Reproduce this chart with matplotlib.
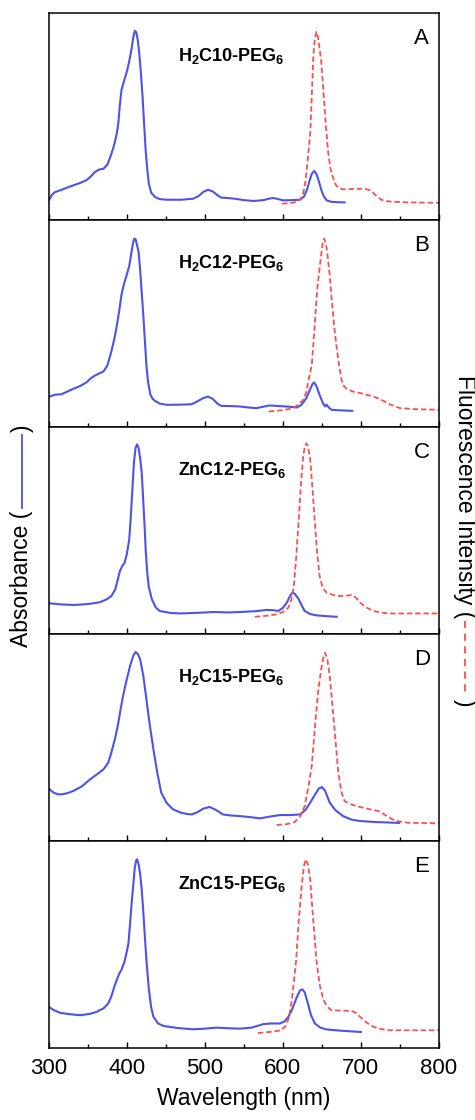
import matplotlib
matplotlib.use("Agg")
import matplotlib.pyplot as plt
from matplotlib.lines import Line2D
from matplotlib.ticker import MultipleLocator

plt.rcParams['font.family'] = ['Liberation Sans', 'DejaVu Sans']
plt.rcParams['mathtext.fontset'] = 'custom'
plt.rcParams['mathtext.bf'] = 'Liberation Sans:bold'
plt.rcParams['mathtext.rm'] = 'Liberation Sans:bold'
plt.rcParams['mathtext.default'] = 'bf'

ABS_COLOR = '#4b53ea'
FL_COLOR = '#fa4f4f'

# --- spectra, intensities normalised to panel height -------------------------
names = ['H$_2$C10-PEG$_6$', 'H$_2$C12-PEG$_6$', 'ZnC12-PEG$_6$',
         'H$_2$C15-PEG$_6$', 'ZnC15-PEG$_6$']
letters = ['A', 'B', 'C', 'D', 'E']

a_abs_wl = [300, 304, 308, 315, 323, 331, 340, 348, 353, 359, 364, 370, 375, 380,
            384, 387, 389, 391, 393, 396, 400, 403, 406, 408, 410, 412, 414, 416,
            418, 420, 422, 424, 426, 428, 431, 436, 442, 451, 470, 485, 492, 498,
            504, 510, 516, 521, 530, 540, 550, 562, 575, 583, 588, 594, 600, 612,
            622, 627, 631, 634, 637, 640, 643, 646, 649, 652, 656, 662, 670, 679]
a_abs = [0.097, 0.125, 0.137, 0.146, 0.158, 0.169, 0.181, 0.194, 0.210, 0.234,
         0.245, 0.250, 0.270, 0.320, 0.370, 0.420, 0.470, 0.560, 0.630, 0.670,
         0.720, 0.770, 0.830, 0.880, 0.916, 0.910, 0.870, 0.800, 0.710, 0.600,
         0.470, 0.340, 0.250, 0.180, 0.135, 0.113, 0.103, 0.100, 0.100, 0.105,
         0.118, 0.138, 0.148, 0.140, 0.122, 0.110, 0.108, 0.104, 0.098, 0.094,
         0.098, 0.106, 0.108, 0.103, 0.097, 0.098, 0.100, 0.115, 0.150, 0.190,
         0.225, 0.239, 0.225, 0.190, 0.150, 0.120, 0.097, 0.090, 0.088, 0.087]
a_fl_wl = [599, 610, 617, 622, 626, 629, 632, 635, 637, 639, 641, 643, 645, 647,
           649, 652, 655, 658, 661, 664, 668, 672, 678, 690, 699, 706, 712, 718,
           726, 733, 741, 760, 800]
a_fl = [0.081, 0.084, 0.089, 0.100, 0.129, 0.190, 0.300, 0.420, 0.600, 0.790,
        0.880, 0.911, 0.885, 0.830, 0.774, 0.620, 0.460, 0.330, 0.250, 0.210,
        0.170, 0.155, 0.150, 0.152, 0.153, 0.152, 0.145, 0.125, 0.100, 0.093,
        0.090, 0.087, 0.085]

b_abs_wl = [301, 308, 316, 323, 331, 340, 348, 353, 357, 363, 370, 375, 380, 384,
            387, 390, 393, 396, 400, 403, 406, 408, 409.5, 411, 413, 415, 417, 419,
            421, 423, 425, 427, 430, 433, 436, 442, 451, 470, 483, 490, 497, 504,
            510, 516, 521, 533, 545, 556, 566, 575, 583, 595, 608, 618, 624, 630,
            635, 638, 640, 643, 647, 651, 654, 656, 658, 662, 675, 689]
b_abs = [0.149, 0.158, 0.160, 0.172, 0.186, 0.200, 0.217, 0.235, 0.246, 0.258,
         0.270, 0.300, 0.366, 0.430, 0.490, 0.560, 0.640, 0.690, 0.740, 0.780,
         0.850, 0.895, 0.912, 0.910, 0.880, 0.848, 0.760, 0.650, 0.543, 0.420,
         0.300, 0.222, 0.160, 0.138, 0.128, 0.115, 0.109, 0.110, 0.112, 0.125,
         0.140, 0.149, 0.138, 0.115, 0.104, 0.103, 0.101, 0.096, 0.093, 0.100,
         0.106, 0.103, 0.100, 0.096, 0.110, 0.141, 0.185, 0.210, 0.217, 0.200,
         0.157, 0.120, 0.101, 0.110, 0.100, 0.085, 0.082, 0.080]
b_fl_wl = [582, 600, 613, 620, 626, 630, 634, 637, 640, 643, 645, 648, 651, 653,
           655, 657, 660, 663, 666, 669, 672, 675, 677, 682, 690, 700, 710, 716,
           722, 729, 738, 750, 770, 800]
b_fl = [0.077, 0.083, 0.093, 0.110, 0.133, 0.170, 0.250, 0.300, 0.450, 0.620,
        0.703, 0.800, 0.890, 0.912, 0.890, 0.840, 0.735, 0.600, 0.480, 0.382,
        0.300, 0.235, 0.205, 0.185, 0.173, 0.165, 0.155, 0.149, 0.140, 0.128,
        0.110, 0.093, 0.088, 0.085]

c_abs_wl = [301, 315, 331, 345, 353, 365, 374, 380, 385, 388, 391, 394, 397, 400,
            403, 405, 407, 409, 411, 413, 415, 417, 419, 421, 423, 424, 426, 428,
            432, 437, 442, 455, 468, 490, 511, 530, 545, 565, 579, 587, 594, 600,
            605, 609, 612, 615, 620, 624, 628, 635, 643, 655, 669]
c_abs = [0.150, 0.145, 0.142, 0.145, 0.148, 0.155, 0.169, 0.185, 0.217, 0.260,
         0.306, 0.330, 0.346, 0.390, 0.459, 0.570, 0.700, 0.830, 0.900, 0.918,
         0.900, 0.850, 0.781, 0.640, 0.500, 0.411, 0.300, 0.230, 0.169, 0.130,
         0.113, 0.104, 0.101, 0.104, 0.108, 0.106, 0.108, 0.112, 0.118, 0.117,
         0.113, 0.128, 0.153, 0.185, 0.201, 0.197, 0.172, 0.140, 0.113, 0.098,
         0.092, 0.088, 0.085]
c_fl_wl = [564, 580, 592, 600, 607, 611, 614, 617, 620, 623, 626, 628, 630, 632,
           635, 638, 641, 644, 647, 651, 656, 665, 673, 680, 688, 693, 699, 707,
           716, 726, 737, 800]
c_fl = [0.085, 0.090, 0.097, 0.108, 0.129, 0.170, 0.233, 0.370, 0.539, 0.720,
        0.861, 0.905, 0.923, 0.910, 0.845, 0.700, 0.539, 0.390, 0.282, 0.225,
        0.201, 0.190, 0.185, 0.186, 0.190, 0.180, 0.153, 0.130, 0.113, 0.105,
        0.101, 0.101]

d_abs_wl = [300, 306, 312, 316, 323, 331, 342, 353, 362, 370, 376, 380, 385, 389,
            392, 395, 399, 404, 408, 411, 414, 417, 421, 425, 429, 434, 439, 444,
            451, 459, 468, 477, 483, 490, 498, 506, 514, 523, 533, 545, 558, 571,
            584, 596, 610, 622, 629, 635, 641, 646, 650, 654, 660, 667, 677, 688,
            699, 720, 749]
d_abs = [0.254, 0.235, 0.227, 0.227, 0.232, 0.243, 0.265, 0.300, 0.325, 0.348,
         0.380, 0.428, 0.500, 0.573, 0.640, 0.702, 0.770, 0.847, 0.895, 0.915,
         0.905, 0.879, 0.800, 0.686, 0.570, 0.444, 0.330, 0.235, 0.185, 0.155,
         0.140, 0.132, 0.130, 0.140, 0.158, 0.166, 0.152, 0.130, 0.125, 0.122,
         0.117, 0.111, 0.120, 0.127, 0.127, 0.130, 0.152, 0.187, 0.225, 0.255,
         0.262, 0.245, 0.187, 0.152, 0.122, 0.105, 0.098, 0.093, 0.089]
d_fl_wl = [592, 605, 615, 622, 628, 633, 637, 641, 645, 649, 652, 654, 657, 660,
           662, 666, 671, 675, 679, 686, 694, 705, 715, 722, 728, 733, 740, 746,
           760, 800]
d_fl = [0.079, 0.083, 0.093, 0.120, 0.171, 0.270, 0.364, 0.550, 0.718, 0.830,
        0.890, 0.911, 0.880, 0.800, 0.718, 0.550, 0.332, 0.240, 0.195, 0.180,
        0.171, 0.160, 0.152, 0.147, 0.135, 0.122, 0.107, 0.098, 0.090, 0.087]

e_abs_wl = [300, 306, 314, 326, 340, 352, 361, 370, 376, 380, 384, 387, 390, 393,
            397, 400, 402, 404, 406, 408, 410, 412, 413, 415, 417, 419, 421, 423,
            425, 428, 431, 434, 440, 447, 465, 485, 500, 515, 530, 545, 560, 575,
            585, 596, 602, 607, 612, 618, 622, 625, 628, 632, 636, 641, 648, 656,
            675, 700]
e_abs = [0.200, 0.185, 0.172, 0.165, 0.160, 0.166, 0.176, 0.193, 0.217, 0.250,
         0.300, 0.330, 0.360, 0.379, 0.420, 0.470, 0.508, 0.600, 0.700, 0.783,
         0.870, 0.910, 0.913, 0.890, 0.840, 0.767, 0.660, 0.540, 0.427, 0.290,
         0.200, 0.152, 0.120, 0.108, 0.098, 0.092, 0.095, 0.100, 0.097, 0.095,
         0.100, 0.117, 0.120, 0.120, 0.130, 0.152, 0.190, 0.249, 0.280, 0.285,
         0.270, 0.217, 0.160, 0.120, 0.100, 0.091, 0.085, 0.079]
e_fl_wl = [568, 585, 598, 604, 608, 612, 617, 620, 624, 627, 629, 632, 635, 638,
           643, 647, 652, 657, 662, 675, 688, 694, 699, 707, 716, 726, 737, 800]
e_fl = [0.074, 0.080, 0.087, 0.110, 0.152, 0.250, 0.427, 0.600, 0.783, 0.880,
        0.913, 0.890, 0.816, 0.660, 0.427, 0.310, 0.233, 0.200, 0.184, 0.182,
        0.181, 0.170, 0.152, 0.125, 0.104, 0.093, 0.087, 0.087]

absorbance = [(a_abs_wl, a_abs), (b_abs_wl, b_abs), (c_abs_wl, c_abs),
              (d_abs_wl, d_abs), (e_abs_wl, e_abs)]
fluorescence = [(a_fl_wl, a_fl), (b_fl_wl, b_fl), (c_fl_wl, c_fl),
                (d_fl_wl, d_fl), (e_fl_wl, e_fl)]

# --- figure --------------------------------------------------------------------
fig = plt.figure(figsize=(4.75, 11.2), dpi=100)
axes = fig.subplots(5, 1, sharex=True)
fig.subplots_adjust(left=0.103, right=0.924, top=0.988, bottom=0.064, hspace=0)

for i, ax in enumerate(axes):
    wl, val = absorbance[i]
    ax.plot(wl, val, color=ABS_COLOR, lw=1.5, solid_joinstyle='round')
    wl, val = fluorescence[i]
    ax.plot(wl, val, color=FL_COLOR, lw=1.3, dashes=(3, 1.6))

    ax.set_xlim(300, 800)
    ax.set_ylim(0, 1)
    ax.set_yticks([])
    ax.xaxis.set_major_locator(MultipleLocator(100))
    ax.xaxis.set_minor_locator(MultipleLocator(50))
    ax.tick_params(axis='x', which='major', direction='in', length=4.5, width=1,
                   labelsize=16, pad=7)
    ax.tick_params(axis='x', which='minor', direction='in', length=3, width=1)
    for sp in ax.spines.values():
        sp.set_linewidth(1.1)

    ax.text(534, 0.795, names[i], ha='center', va='center', fontsize=13,
            fontweight='bold')
    ax.text(778, 0.88, letters[i], ha='center', va='center', fontsize=16)

axes[-1].set_xlabel('Wavelength (nm)', fontsize=16.5, labelpad=6)

# --- y labels with line-style keys ---------------------------------------------
fig.canvas.draw()
renderer = fig.canvas.get_renderer()
W, H = fig.bbox.width, fig.bbox.height

# left: reads bottom to top
t1 = fig.text(0.0463, (1120 - 647) / 1120, 'Absorbance (', rotation=90,
              ha='center', va='bottom', fontsize=16.5)
bb = t1.get_window_extent(renderer)
xc = (bb.x0 + bb.x1) / 2
y0 = bb.y1 + 3
y1 = y0 + 73
fig.add_artist(Line2D([xc / W, xc / W], [y0 / H, y1 / H], color=ABS_COLOR,
                      lw=1.3, transform=fig.transFigure))
fig.text(0.0463, (y1 + 3) / H, ')', rotation=90, ha='center', va='bottom',
         fontsize=16.5)

# right: reads top to bottom
t2 = fig.text(0.978, (1120 - 375) / 1120, 'Fluorescence Intensity (', rotation=270,
              ha='center', va='top', fontsize=16.5)
bb = t2.get_window_extent(renderer)
xc = (bb.x0 + bb.x1) / 2
y0 = bb.y0 - 3
y1 = y0 - 75
fig.add_artist(Line2D([xc / W, xc / W], [y0 / H, y1 / H], color=FL_COLOR,
                      lw=1.3, dashes=(4, 3), transform=fig.transFigure))
fig.text(0.978, (y1 - 3) / H, ')', rotation=270, ha='center', va='top',
         fontsize=16.5)

fig.savefig('out.png', dpi=100)
